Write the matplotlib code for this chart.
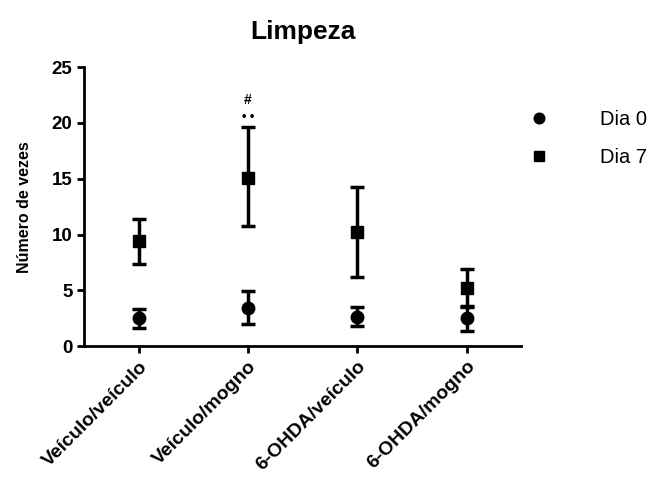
import matplotlib
matplotlib.use("Agg")
import matplotlib.pyplot as plt

plt.rcParams["font.family"] = ["Liberation Sans", "DejaVu Sans"]

groups = ["Veículo/veículo", "Veículo/mogno", "6-OHDA/veículo", "6-OHDA/mogno"]

dia0_mean = [2.5, 3.4, 2.6, 2.5]
dia0_low = [1.6, 2.0, 1.8, 1.35]
dia0_high = [3.3, 4.9, 3.5, 3.6]

dia7_mean = [9.4, 15.1, 10.2, 5.2]
dia7_low = [7.4, 10.75, 6.2, 3.5]
dia7_high = [11.4, 19.6, 14.3, 6.9]

x = list(range(len(groups)))

fig = plt.figure(figsize=(6.58, 4.8), dpi=100)
ax = fig.add_axes([0.128, 0.279, 0.664, 0.581])

ax.errorbar(
    x,
    dia0_mean,
    yerr=[[m - l for m, l in zip(dia0_mean, dia0_low)],
          [h - m for m, h in zip(dia0_mean, dia0_high)]],
    fmt="o",
    color="black",
    markersize=9,
    elinewidth=2.5,
    capsize=5,
    capthick=2.5,
    label="Dia 0",
)

ax.errorbar(
    x,
    dia7_mean,
    yerr=[[m - l for m, l in zip(dia7_mean, dia7_low)],
          [h - m for m, h in zip(dia7_mean, dia7_high)]],
    fmt="s",
    color="black",
    markersize=9,
    elinewidth=2.5,
    capsize=5,
    capthick=2.5,
    label="Dia 7",
)

ax.text(1, 20.5, "• •", ha="center", va="center", fontsize=9, fontweight="bold")
ax.text(1, 22.1, "#", ha="center", va="center", fontsize=10, fontweight="bold")

ax.set_xlim(-0.5, 3.5)
ax.set_ylim(0, 25)
ax.set_yticks([0, 5, 10, 15, 20, 25])
ax.set_xticks(x)
ax.set_xticklabels(groups, rotation=45, ha="right", rotation_mode="anchor",
                   fontweight="bold", fontsize=14)
for lab in ax.get_yticklabels():
    lab.set_fontweight("bold")
    lab.set_fontsize(13.5)

ax.spines["top"].set_visible(False)
ax.spines["right"].set_visible(False)
ax.spines["left"].set_linewidth(2)
ax.spines["bottom"].set_linewidth(2)
ax.tick_params(width=2, length=5)

ax.set_ylabel("Número de vezes", fontweight="bold", fontsize=11.5, labelpad=14)
ax.set_title("Limpeza", fontweight="bold", fontsize=19, pad=20)

handles, labels = ax.get_legend_handles_labels()
handles = [h[0] for h in handles]
ax.legend(handles, labels, loc="upper left", bbox_to_anchor=(0.954, 0.91),
          frameon=False, fontsize=14.5, handletextpad=2.0, labelspacing=0.9,
          markerscale=0.85)

fig.savefig("out.png", dpi=100)
